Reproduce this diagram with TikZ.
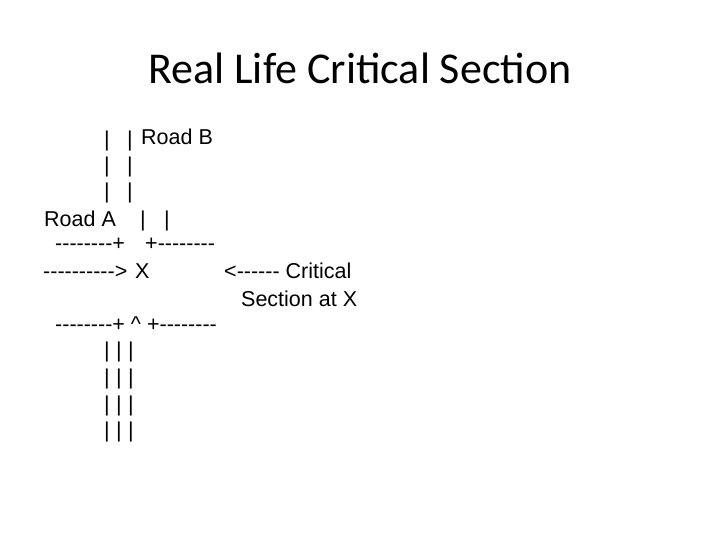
\documentclass[tikz,border=0pt]{standalone}
\usepackage{fontspec}
\newfontfamily\titlefont{Carlito}
\newfontfamily\artfont{Liberation Sans}
\begin{document}
\begin{tikzpicture}[x=1pt,y=-1pt,
  txt/.style={anchor=base west,inner sep=0pt,font=\artfont\fontsize{21.5}{24}\selectfont},
  bar/.style={anchor=base,inner sep=0pt,font=\artfont\fontsize{21.5}{24}\selectfont},
  ttl/.style={anchor=base,inner sep=0pt,font=\titlefont\fontsize{44}{50}\selectfont}]
\useasboundingbox[fill=white] (0,0) rectangle (720,540);
\node[ttl] (title) at (360,84) {Real Life Critical Section};
% Road B
\node[bar] (l1a) at (107,147) {|};
\node[bar] (l1b) at (130,147) {|};
\node[txt] (roadb) at (141,145) {Road B};
\node[bar] (l2a) at (107,173) {|};
\node[bar] (l2b) at (130,173) {|};
\node[bar] (l3a) at (107,199) {|};
\node[bar] (l3b) at (130,199) {|};
% Road A
\node[txt] (roada) at (44,226) {Road A};
\node[bar] (l4a) at (143,226) {|};
\node[bar] (l4b) at (167,226) {|};
\node[txt] (l5a) at (55,251) {--------+};
\node[txt] (l5b) at (145,251) {+--------};
\node[txt] (l6a) at (43,278) {---------->};
\node[txt] (l6x) at (135,278) {X};
\node[txt] (l6b) at (224,278) {<------ Critical};
\node[txt] (l7) at (241,306) {Section at X};
\node[txt] (l8) at (55,331) {--------+ \^{} +--------};
\foreach \i/\y in {9/357,10/384,11/411,12/437}{
  \node[bar] (l\i a) at (107,\y) {|};
  \node[bar] (l\i b) at (119,\y) {|};
  \node[bar] (l\i c) at (131,\y) {|};
}
\end{tikzpicture}
\end{document}
